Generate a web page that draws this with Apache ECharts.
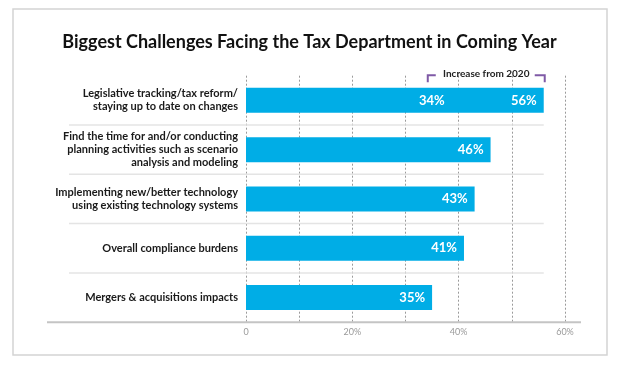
<!DOCTYPE html>
<html>
<head>
<meta charset="utf-8">
<script src="https://cdn.jsdelivr.net/npm/echarts@6/dist/echarts.min.js"></script>
<style>
  html, body { margin: 0; padding: 0; background: #fff; }
  #chart { width: 619px; height: 365px; }
</style>
</head>
<body>
<div id="chart"></div>
<script>
// ---- Data ----
const titleText = 'Biggest Challenges Facing the Tax Department in Coming Year';
const categories = [
  'Legislative tracking/tax reform/\nstaying up to date on changes',
  'Find the time for and/or conducting\nplanning activities such as scenario\nanalysis and modeling',
  'Implementing new/better technology\nusing existing technology systems',
  'Overall compliance burdens',
  'Mergers & acquisitions impacts'
];
const values = [56, 46, 43, 41, 35];
const prior2020 = [34];            // 2020 value for the first challenge
const increaseLabel = 'Increase from 2020';
const xMin = 0, xMax = 60, xStep = 10;
const xLabelTicks = [0, 20, 40, 60];

// ---- Chart ----
const chart = echarts.init(document.getElementById('chart'));
const FONT = 'Lato, "Noto Sans", sans-serif';
const sepData = categories.slice(0, -1).map((c, i) => [Math.max(...values), i]);
const baseData = [[xMax, categories.length - 1]];
const bracketData = [[prior2020[0], values[0], 0]];

chart.setOption({
  animation: false,
  title: {
    text: titleText,
    left: 'center',
    top: 28,
    textStyle: { fontFamily: FONT, fontSize: 18, fontWeight: 'bold', color: '#111' }
  },
  graphic: [{
    type: 'rect',
    shape: { x: 13, y: 9, width: 594, height: 346 },
    style: { fill: 'none', stroke: '#d4d4d4', lineWidth: 1.5 },
    silent: true
  }],
  grid: { left: 246, right: 54, top: 75.7, bottom: 42.8, outerBoundsMode: 'none', containLabel: false },
  xAxis: {
    type: 'value',
    min: xMin, max: xMax, interval: xStep,
    axisLine: { show: false },
    axisTick: { show: false },
    splitLine: { show: true, lineStyle: { color: '#9a9a9a', width: 1, type: [2, 2] } },
    axisLabel: {
      margin: 5,
      color: '#9a9a9a', fontSize: 9, fontFamily: FONT,
      formatter: v => xLabelTicks.includes(v) ? (v === 0 ? '0' : v + '%') : ''
    }
  },
  yAxis: {
    type: 'category',
    data: categories,
    inverse: true,
    axisLine: { show: false },
    axisTick: { show: false },
    splitLine: { show: false },
    axisLabel: {
      margin: 8,
      color: '#1a1a1a', fontSize: 11, lineHeight: 13, fontWeight: 'bold', fontFamily: FONT,
      align: 'right'
    }
  },
  series: [
    {
      type: 'custom',
      clip: false,
      silent: true,
      z: 1,
      data: sepData,
      renderItem: (params, api) => {
        const idx = api.value(1);
        const c0 = api.coord([0, idx]);
        const h = api.size([0, 1])[1];
        const xEnd = api.coord([api.value(0), idx])[0];
        const y = c0[1] + h / 2;
        return { type: 'line', shape: { x1: c0[0] - 177, y1: y, x2: xEnd, y2: y },
                 style: { stroke: '#e4e4e4', lineWidth: 1.5 } };
      }
    },
    {
      type: 'custom',
      clip: false,
      silent: true,
      z: 3,
      data: baseData,
      renderItem: (params, api) => {
        const idx = api.value(1);
        const c0 = api.coord([0, idx]);
        const h = api.size([0, 1])[1];
        const xEnd = api.coord([api.value(0), idx])[0];
        const y = c0[1] + h / 2;
        return { type: 'line', shape: { x1: c0[0] - 199, y1: y, x2: xEnd + 16, y2: y },
                 style: { stroke: '#c4c4c4', lineWidth: 2 } };
      }
    },
    {
      type: 'bar',
      data: values,
      barWidth: 25,
      z: 2,
      itemStyle: { color: '#00ADE6' },
      label: {
        show: true, position: 'insideRight', distance: 7,
        formatter: p => p.value + '%',
        color: '#fff', fontSize: 13, fontWeight: 'bold', fontFamily: FONT
      }
    },
    {
      type: 'custom',
      clip: false,
      silent: true,
      z: 5,
      data: bracketData,
      renderItem: (params, api) => {
        const idx = api.value(2);
        const p1 = api.coord([api.value(0), idx]);
        const p2 = api.coord([api.value(1), idx]);
        const h = api.size([0, 1])[1];
        const top = p1[1] - h / 2 - 0.5;
        const col = '#7f5aa6';
        return {
          type: 'group',
          children: [
            { type: 'polyline', shape: { points: [[p1[0] + 1, top + 7], [p1[0] + 1, top], [p1[0] + 9, top]] },
              style: { stroke: col, lineWidth: 2, fill: 'none' } },
            { type: 'polyline', shape: { points: [[p2[0] - 9, top], [p2[0] + 1, top], [p2[0] + 1, top + 7]] },
              style: { stroke: col, lineWidth: 2, fill: 'none' } },
            { type: 'text', x: (p1[0] + p2[0]) / 2 + 1, y: top - 1,
              style: { text: increaseLabel, fill: '#222', fontSize: 10, fontWeight: 'bold', fontFamily: FONT,
                       align: 'center', verticalAlign: 'middle' } },
            { type: 'text', x: p1[0] + 5, y: p1[1],
              style: { text: api.value(0) + '%', fill: '#fff', fontSize: 13, fontWeight: 'bold', fontFamily: FONT,
                       align: 'center', verticalAlign: 'middle' } }
          ]
        };
      }
    }
  ]
});
</script>
</body>
</html>
